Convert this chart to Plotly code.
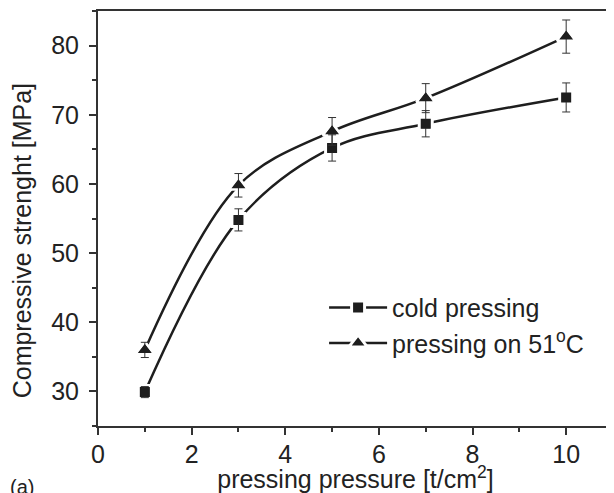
import plotly.graph_objects as go

pressure = [1, 3, 5, 7, 10]
cold = [29.9, 54.8, 65.2, 68.7, 72.5]
cold_err = [0.8, 1.6, 1.9, 1.9, 2.1]
hot = [36.0, 59.8, 67.6, 72.4, 81.3]
hot_err = [1.1, 1.7, 2.0, 2.1, 2.4]

names = ["cold pressing", "pressing on 51<sup>o</sup>C"]
symbols = ["square", "triangle-up"]
sizes = [9, 12]
y_title = "Compressive strenght [MPa]"
x_title = "pressing pressure [t/cm<sup>2</sup>]"

INK = "#1e1e1e"
FONT = "Liberation Sans, Arial, sans-serif"

fig = go.Figure()
series = [(cold, cold_err), (hot, hot_err)]

for i, (y, e) in enumerate(series):
    fig.add_trace(go.Scatter(
        x=pressure, y=y, mode="lines+markers", name=names[i],
        line=dict(color=INK, width=2.5, shape="spline", smoothing=1.0),
        marker=dict(symbol=symbols[i], size=sizes[i] + 4, color=INK,
                    line=dict(color="white", width=3)),
        legendgroup=str(i), showlegend=True,
    ))

for i, (y, e) in enumerate(series):
    fig.add_trace(go.Scatter(
        x=pressure, y=y, mode="markers", showlegend=False,
        marker=dict(symbol=symbols[i], size=sizes[i], color=INK),
        error_y=dict(type="data", array=e, visible=True, color="#333333",
                     thickness=1, width=4),
    ))

# page body adds an 8px offset; figure sized to fit the visible window
fig.update_layout(
    width=606, height=485,
    margin=dict(l=90, r=1, t=3, b=67, autoexpand=False),
    paper_bgcolor="white", plot_bgcolor="white",
    font=dict(family=FONT, color="#222222", size=24),
    legend=dict(x=0.439, y=0.243, xanchor="left", yanchor="middle",
                bgcolor="rgba(0,0,0,0)", font=dict(size=25),
                tracegroupgap=0, itemwidth=58),
    annotations=[
        dict(text="(a)", x=0.0, y=0.0, xref="paper", yref="paper",
             xshift=-90, yshift=-61, xanchor="left", yanchor="middle",
             showarrow=False, font=dict(size=20)),
        dict(text=y_title, x=0.0, y=0.445, xref="paper", yref="paper",
             xshift=-76, xanchor="center", yanchor="middle", textangle=-90,
             showarrow=False, font=dict(size=25)),
    ],
)

fig.update_xaxes(
    range=[0, 11], tickvals=[0, 2, 4, 6, 8, 10],
    ticks="outside", ticklen=7, tickwidth=1.5, tickcolor="#333333",
    minor=dict(dtick=1, ticks="outside", ticklen=4, tickcolor="#333333", tickwidth=1.5),
    showline=True, linecolor="#333333", linewidth=2, mirror=True,
    showgrid=False, zeroline=False, automargin=False,
    title=dict(text=x_title, font=dict(size=25), standoff=10),
    tickfont=dict(size=25), ticklabelstandoff=-2,
)
fig.update_yaxes(
    range=[25, 85], tickvals=[30, 40, 50, 60, 70, 80],
    ticks="outside", ticklen=7, tickwidth=1.5, tickcolor="#333333",
    minor=dict(dtick=5, ticks="outside", ticklen=4, tickcolor="#333333", tickwidth=1.5),
    showline=True, linecolor="#333333", linewidth=2, mirror=True,
    showgrid=False, zeroline=False, automargin=False,
    tickfont=dict(size=25), ticklabelstandoff=5,
)

fig.write_html("out.html")
